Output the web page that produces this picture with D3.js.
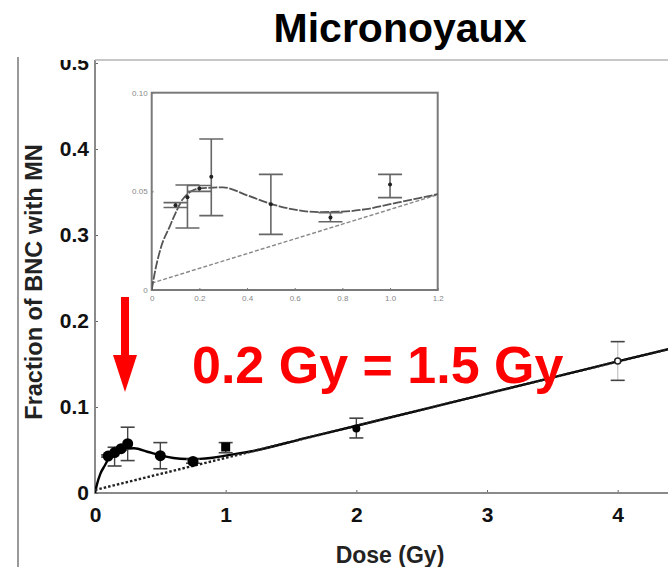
<!DOCTYPE html>
<html lang="fr">
<head>
<meta charset="utf-8">
<title>Micronoyaux</title>
<script src="https://cdn.jsdelivr.net/npm/d3@7"></script>
<style>
    body { margin: 0; background: #fff; }
    svg { display: block; }
    text { font-family: "Liberation Sans", Arial, sans-serif; }
</style>
</head>
<body>
<div id="chart"></div>
<script>
// measured points: dose (Gy), fraction of BNC with MN, error bar low / high
var doses   = [0.1, 0.15, 0.2, 0.25, 0.5, 0.75, 1.0, 2.0, 4.0];
var values  = [0.043, 0.047, 0.0515, 0.0574, 0.0434, 0.0367, 0.0535, 0.075, 0.1535];
var errLow  = [0.0418, 0.0314, 0.050, 0.0377, 0.0282, 0.0346, 0.0468, 0.064, 0.131];
var errHigh = [0.0443, 0.0532, 0.053, 0.0765, 0.0586, 0.0392, 0.0586, 0.087, 0.176];
var markers = ["dot", "dot", "dot", "dot", "dot", "dot", "square", "dot", "open"];

// fitted curve (solid)
var fitDose = [0, 0.015, 0.04, 0.075, 0.1, 0.13, 0.2, 0.3, 0.4, 0.5, 0.6, 0.7, 0.8, 0.9, 1.0, 1.1, 1.2, 1.6, 2.0, 3.0, 4.0, 4.5];
var fitVal  = [0, 0.010, 0.022, 0.032, 0.039, 0.046, 0.0515, 0.052, 0.048, 0.0437, 0.0407, 0.0395, 0.0397, 0.041, 0.0435, 0.046, 0.0486, 0.0635, 0.0782, 0.1155, 0.153, 0.1715];

// linear reference (dashed)
var linDose = [0, 4.5];
var linVal  = [0.0035, 0.1715];

// tick labels
var mainXTicks = [0, 1, 2, 3, 4];
var mainYTicks = [0, 0.1, 0.2, 0.3, 0.4, 0.5];
var insetXTicks = [0, 0.2, 0.4, 0.6, 0.8, 1.0, 1.2];
var insetYTicks = [0, 0.05, 0.1];

var width = 668, height = 567;

var svg = d3.select("#chart").append("svg")
    .attr("width", width)
    .attr("height", height);

var points = doses.map(function(d, i) {
    return {dose: d, value: values[i], lo: errLow[i], hi: errHigh[i], marker: markers[i]};
});
var fit = fitDose.map(function(d, i) { return [d, fitVal[i]]; });
var lin = linDose.map(function(d, i) { return [d, linVal[i]]; });

// ---- main plot ----
var x = d3.scaleLinear().domain([0, 4]).range([95, 617.7]);
var y = d3.scaleLinear().domain([0, 0.5]).range([493, 63]);

svg.append("clipPath").attr("id", "mainClip")
  .append("rect").attr("x", 95).attr("y", 58).attr("width", width - 95).attr("height", 440);

var main = svg.append("g");

// axes
var xAxis = main.append("g").attr("transform", "translate(0,493)")
    .call(d3.axisBottom(x).tickValues(mainXTicks).tickSize(-3).tickPadding(14)
        .tickFormat(d3.format("d")));
xAxis.select(".domain").remove();
xAxis.append("line").attr("x1", 95).attr("x2", width).attr("y1", 0).attr("y2", 0)
    .attr("stroke", "#8a8a8a").attr("stroke-width", 2);
xAxis.selectAll(".tick line").attr("stroke", "#666");
xAxis.selectAll(".tick text")
    .attr("font-size", 21).attr("font-weight", "bold").attr("fill", "#111")
    .attr("font-family", "Liberation Sans, Arial, sans-serif");

var yAxis = main.append("g").attr("transform", "translate(95,0)")
    .call(d3.axisLeft(y).tickValues(mainYTicks).tickSize(-3).tickPadding(6)
        .tickFormat(function(d) { return d === 0 ? "0" : d3.format(".1f")(d); }));
yAxis.select(".domain").remove();
yAxis.append("line").attr("x1", 0).attr("x2", 0).attr("y1", 60).attr("y2", 494)
    .attr("stroke", "#8a8a8a").attr("stroke-width", 2);
yAxis.selectAll(".tick line").attr("stroke", "#666");
yAxis.selectAll(".tick text")
    .attr("font-size", 21).attr("font-weight", "bold").attr("fill", "#111")
    .attr("font-family", "Liberation Sans, Arial, sans-serif");

var plot = main.append("g").attr("clip-path", "url(#mainClip)");

var lineMain = d3.line()
    .x(function(d) { return x(d[0]); })
    .y(function(d) { return y(d[1]); })
    .curve(d3.curveMonotoneX);

plot.append("path").datum(fit).attr("d", lineMain)
    .attr("fill", "none").attr("stroke", "#000").attr("stroke-width", 2.4);
plot.append("path").datum(lin).attr("d", lineMain)
    .attr("fill", "none").attr("stroke", "#222").attr("stroke-width", 2.4)
    .attr("stroke-dasharray", "2.5,2");

// error bars
var eb = plot.selectAll(".eb").data(points).enter().append("g");
eb.append("line")
    .attr("x1", function(d) { return x(d.dose); }).attr("x2", function(d) { return x(d.dose); })
    .attr("y1", function(d) { return y(d.lo); }).attr("y2", function(d) { return y(d.hi); })
    .attr("stroke", function(d) { return d.marker === "open" ? "#ccc" : "#444"; })
    .attr("stroke-width", 1.4);
["lo", "hi"].forEach(function(k) {
    eb.append("line")
        .attr("x1", function(d) { return x(d.dose) - 7; }).attr("x2", function(d) { return x(d.dose) + 7; })
        .attr("y1", function(d) { return y(d[k]); }).attr("y2", function(d) { return y(d[k]); })
        .attr("stroke", "#444").attr("stroke-width", 1.6);
});

// markers
plot.selectAll(".dot").data(points.filter(function(d) { return d.marker === "dot"; }))
    .enter().append("circle")
    .attr("cx", function(d) { return x(d.dose); })
    .attr("cy", function(d) { return y(d.value); })
    .attr("r", function(d) { return d.dose < 1 ? 5.5 : 4; })
    .attr("fill", "#000");
plot.selectAll(".sq").data(points.filter(function(d) { return d.marker === "square"; }))
    .enter().append("rect")
    .attr("x", function(d) { return x(d.dose) - 4.5; })
    .attr("y", function(d) { return y(d.value) - 4.5; })
    .attr("width", 9).attr("height", 9)
    .attr("fill", "#000");
plot.selectAll(".open").data(points.filter(function(d) { return d.marker === "open"; }))
    .enter().append("circle")
    .attr("cx", function(d) { return x(d.dose); })
    .attr("cy", function(d) { return y(d.value); })
    .attr("r", 3).attr("fill", "#fff").attr("stroke", "#222").attr("stroke-width", 1.5);

// ---- inset ----
var ix = d3.scaleLinear().domain([0, 1.2]).range([151.7, 437.7]);
var iy = d3.scaleLinear().domain([0, 0.1]).range([290, 92.7]);

svg.append("clipPath").attr("id", "insetClip")
  .append("rect").attr("x", 151.7).attr("y", 92.7).attr("width", 286).attr("height", 197.3);

var inset = svg.append("g");
inset.append("rect")
    .attr("x", ix(0)).attr("y", iy(0.1))
    .attr("width", ix(1.2) - ix(0)).attr("height", iy(0) - iy(0.1))
    .attr("fill", "#fff").attr("stroke", "#7a7a7a").attr("stroke-width", 2);

var ixAxis = inset.append("g").attr("transform", "translate(0,290)")
    .call(d3.axisBottom(ix).tickValues(insetXTicks).tickSize(-2).tickPadding(5)
        .tickFormat(function(d) { return d === 0 ? "0" : d3.format(".1f")(d); }));
ixAxis.select(".domain").remove();
ixAxis.selectAll(".tick line").attr("stroke", "#777");
ixAxis.selectAll(".tick text").attr("font-size", 8).attr("fill", "#888")
    .attr("font-family", "Liberation Sans, Arial, sans-serif");

var iyAxis = inset.append("g").attr("transform", "translate(151.7,0)")
    .call(d3.axisLeft(iy).tickValues(insetYTicks).tickSize(-2).tickPadding(4)
        .tickFormat(function(d) { return d === 0 ? "0" : d3.format(".2f")(d); }));
iyAxis.select(".domain").remove();
iyAxis.selectAll(".tick line").attr("stroke", "#777");
iyAxis.selectAll(".tick text").attr("font-size", 8).attr("fill", "#888")
    .attr("font-family", "Liberation Sans, Arial, sans-serif");

var iplot = inset.append("g").attr("clip-path", "url(#insetClip)");
var lineInset = d3.line()
    .x(function(d) { return ix(d[0]); })
    .y(function(d) { return iy(d[1]); })
    .curve(d3.curveMonotoneX);

iplot.append("path").datum(lin).attr("d", lineInset)
    .attr("fill", "none").attr("stroke", "#888").attr("stroke-width", 1.4)
    .attr("stroke-dasharray", "4,2");
iplot.append("path").datum(fit).attr("d", lineInset)
    .attr("fill", "none").attr("stroke", "#555").attr("stroke-width", 1.8)
    .attr("stroke-dasharray", "9,1.5");

var ieb = iplot.selectAll(".ieb").data(points.filter(function(d) { return d.dose <= 1.2; }))
    .enter().append("g");
ieb.append("line")
    .attr("x1", function(d) { return ix(d.dose); }).attr("x2", function(d) { return ix(d.dose); })
    .attr("y1", function(d) { return iy(d.lo); }).attr("y2", function(d) { return iy(d.hi); })
    .attr("stroke", "#666").attr("stroke-width", 1.6);
["lo", "hi"].forEach(function(k) {
    ieb.append("line")
        .attr("x1", function(d) { return ix(d.dose) - 12; }).attr("x2", function(d) { return ix(d.dose) + 12; })
        .attr("y1", function(d) { return iy(d[k]); }).attr("y2", function(d) { return iy(d[k]); })
        .attr("stroke", "#666").attr("stroke-width", 1.6);
});
ieb.append("circle")
    .attr("cx", function(d) { return ix(d.dose); })
    .attr("cy", function(d) { return iy(d.value); })
    .attr("r", 2).attr("fill", "#222");

// ---- page furniture ----
svg.append("rect").attr("x", 0).attr("y", 0).attr("width", width).attr("height", 60).attr("fill", "#fff");
svg.append("line").attr("x1", 95).attr("x2", width).attr("y1", 60).attr("y2", 60)
    .attr("stroke", "#b5b5b5").attr("stroke-width", 1.5);
svg.append("line").attr("x1", 18).attr("x2", 18).attr("y1", 57).attr("y2", height)
    .attr("stroke", "#999").attr("stroke-width", 2);

svg.append("text").attr("x", 400).attr("y", 42).attr("text-anchor", "middle")
    .attr("font-size", 41).attr("font-weight", "bold").attr("fill", "#000")
    .text("Micronoyaux");

svg.append("text").attr("x", 390).attr("y", 563).attr("text-anchor", "middle")
    .attr("font-size", 23).attr("font-weight", "bold").attr("fill", "#222")
    .text("Dose (Gy)");

svg.append("text").attr("transform", "translate(42,282) rotate(-90)")
    .attr("text-anchor", "middle")
    .attr("font-size", 23.5).attr("font-weight", "bold").attr("fill", "#222")
    .text("Fraction of BNC with MN");

// red annotation
svg.append("line").attr("x1", 125).attr("x2", 125).attr("y1", 297).attr("y2", 360)
    .attr("stroke", "#f00").attr("stroke-width", 8);
svg.append("path").attr("d", "M113,355 L137,355 L125,392 Z").attr("fill", "#f00");

svg.append("text").attr("x", 192).attr("y", 383)
    .attr("font-size", 52).attr("font-weight", "bold").attr("fill", "#f00")
    .text("0.2 Gy = 1.5 Gy");
</script>
</body>
</html>
